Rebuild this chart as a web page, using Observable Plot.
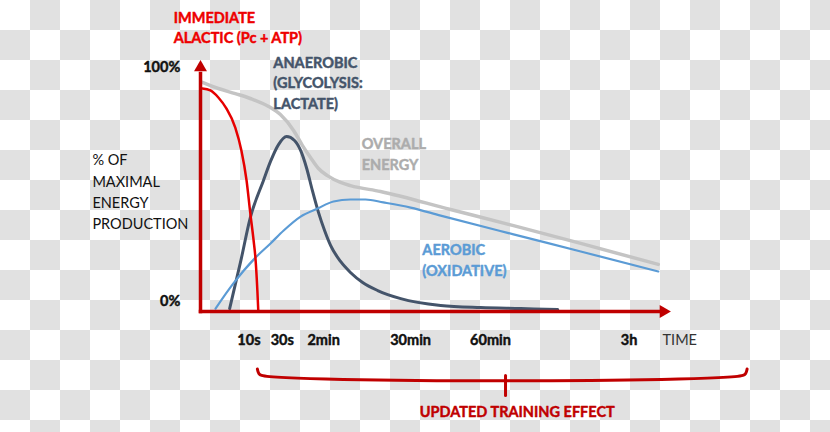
<!DOCTYPE html>
<html>
<head>
<meta charset="utf-8">
<script src="https://cdn.jsdelivr.net/npm/d3@7"></script>
<script src="https://cdn.jsdelivr.net/npm/@observablehq/plot@0.6"></script>
<style>
  html, body { margin: 0; padding: 0; }
  body {
    width: 830px; height: 432px; overflow: hidden;
    background: repeating-conic-gradient(#e1e1e1 0 25%, #ffffff 0 50%) 0 0 / 60px 60px;
  }
  svg { display: block; }
</style>
</head>
<body>
<div id="chart"></div>
<script>
// x: position along the time axis (0 = origin, 100 = arrow end); y: % of maximal energy production
const alacticX = [0.4, 2.1, 3.8, 5.5, 7.4, 8.7, 9.8, 10.6, 11.3, 11.7, 12.1, 12.3];
const alacticY = [91.4, 90.6, 87.7, 83.2, 75.4, 66.0, 53.7, 40.2, 29.1, 21.7, 8.6, 0];

const anaerobicX = [6.2, 8.5, 10.6, 13.4, 14.9, 16.6, 18.3, 20.0, 21.3, 22.6, 23.8, 25.1, 26.4, 27.7, 29.8, 31.9, 34.5, 37.7, 42.6, 51.1, 59.6, 68.1, 76.0];
const anaerobicY = [1.2, 20.1, 38.5, 53.7, 61.5, 68.4, 71.7, 70.1, 66.0, 58.6, 49.6, 40.6, 33.2, 27.0, 20.5, 16.0, 11.9, 8.6, 5.3, 2.5, 1.6, 1.2, 0.8];

const overallX = [0.4, 3.8, 7.4, 10.6, 14.5, 17.0, 19.8, 21.7, 23.4, 25.1, 27.0, 29.8, 31.9, 38.3, 53.2, 66.6, 80.9, 97.4];
const overallY = [93.9, 91.4, 89.3, 87.3, 84.0, 80.7, 74.2, 68.0, 63.1, 58.6, 55.7, 52.9, 51.6, 49.2, 41.8, 35.2, 27.9, 19.3];

const aerobicX = [3.2, 7.0, 11.7, 14.9, 17.7, 21.3, 24.9, 28.3, 31.9, 35.1, 38.9, 44.7, 51.1, 66.6, 80.9, 97.4];
const aerobicY = [1.2, 11.5, 22.1, 27.9, 33.2, 38.9, 42.2, 45.1, 45.9, 45.9, 44.7, 42.6, 39.3, 31.6, 24.6, 16.4];

const xTickLabels = ["10s", "30s", "2min", "30min", "60min", "3h"];
const xTickPos = [10.3, 17.4, 26.2, 44.7, 61.7, 91.2];

const yTickLabels = ["100%", "0%"];
const yTickPos = [100, 4.1];

// bracket below the time axis ("updated training effect")
const braceX = [12.1, 12.4, 13.0, 115.4, 116.0, 116.3];
const braceY = [-23.6, -25.4, -26.2, -26.2, -25.4, -23.6];
const braceTickX = [64.9, 64.9];
const braceTickY = [-26.2, -34.4];

const toPts = (xs, ys) => xs.map((x, i) => ({x, y: ys[i]}));

const DARKRED = "#c00000";
const RED = "#e60000";
const SLATE = "#44546a";
const GRAY = "#c4c4c4";
const BLUE = "#5b9bd5";

const bold = (fill) => ({fontWeight: "bold", fill, stroke: fill, strokeWidth: 0.45});

const chart = Plot.plot({
  width: 830,
  height: 432,
  margin: 0,
  x: {domain: [0, 100], range: [200, 670], axis: null},
  y: {domain: [0, 100], range: [311, 67], axis: null},
  style: {background: "transparent", fontFamily: "Lato, 'Open Sans', sans-serif"},
  marks: [
    // curves
    Plot.line(toPts(overallX, overallY), {x: "x", y: "y", stroke: GRAY, strokeWidth: 3.5, curve: "monotone-x"}),
    Plot.line(toPts(anaerobicX, anaerobicY), {x: "x", y: "y", stroke: SLATE, strokeWidth: 3, curve: "monotone-x"}),
    Plot.line(toPts(aerobicX, aerobicY), {x: "x", y: "y", stroke: BLUE, strokeWidth: 2.2, curve: "monotone-x"}),
    Plot.line(toPts(alacticX, alacticY), {x: "x", y: "y", stroke: RED, strokeWidth: 2.5, curve: "monotone-x"}),
    // axes
    Plot.line([{x: 0, y: 0}, {x: 0, y: 97.5}], {x: "x", y: "y", stroke: DARKRED, strokeWidth: 3.5, strokeLinecap: "square"}),
    Plot.line([{x: 0, y: 0}, {x: 98, y: 0}], {x: "x", y: "y", stroke: DARKRED, strokeWidth: 3.5, strokeLinecap: "square"}),
    Plot.dot([{x: 0, y: 100}], {x: "x", y: "y", symbol: "triangle", r: 4.8, fill: DARKRED, stroke: "none"}),
    Plot.dot([{x: 98.5, y: 0}], {x: "x", y: "y", symbol: "triangle", r: 4.8, rotate: 90, fill: DARKRED, stroke: "none"}),
    // x tick labels
    Plot.text(xTickLabels.map((t, i) => ({t, x: xTickPos[i]})), {x: "x", y: -11.9, text: "t", fontSize: 14.5, ...bold("#111")}),
    Plot.text(["TIME"], {x: 98.3, y: -11.9, text: d => d, textAnchor: "start", fontSize: 14.5, fill: "#333"}),
    // y tick labels
    Plot.text(yTickLabels.map((t, i) => ({t, y: yTickPos[i]})), {x: -4.3, y: "y", text: "t", textAnchor: "end", fontSize: 14.5, ...bold("#111")}),
    Plot.text(["% OF\nMAXIMAL\nENERGY\nPRODUCTION"], {x: -23.0, y: 49.6, text: d => d, textAnchor: "start", fontSize: 14.5, lineHeight: 1.47, fill: "#111"}),
    // series labels
    Plot.text(["IMMEDIATE\nALACTIC (Pc + ATP)"], {x: -5.7, y: 116.9, text: d => d, textAnchor: "start", fontSize: 14.5, lineHeight: 1.38, ...bold("#ee0000")}),
    Plot.text(["ANAEROBIC\n(GLYCOLYSIS:\nLACTATE)"], {x: 15.5, y: 94.1, text: d => d, textAnchor: "start", fontSize: 14.5, lineHeight: 1.41, ...bold(SLATE)}),
    Plot.text(["OVERALL\nENERGY"], {x: 34.3, y: 65.0, text: d => d, textAnchor: "start", fontSize: 14.5, lineHeight: 1.45, ...bold("#acacac")}),
    Plot.text(["AEROBIC\n(OXIDATIVE)"], {x: 47.2, y: 21.5, text: d => d, textAnchor: "start", fontSize: 14.5, lineHeight: 1.45, ...bold(BLUE)}),
    // bracket
    Plot.line(toPts(braceX, braceY), {x: "x", y: "y", stroke: DARKRED, strokeWidth: 3, curve: "catmull-rom"}),
    Plot.line(toPts(braceTickX, braceTickY), {x: "x", y: "y", stroke: DARKRED, strokeWidth: 3}),
    Plot.text(["UPDATED TRAINING EFFECT"], {x: 67.4, y: -41.4, text: d => d, fontSize: 14.5, ...bold(DARKRED)})
  ]
});
document.getElementById("chart").appendChild(chart);
</script>
</body>
</html>
